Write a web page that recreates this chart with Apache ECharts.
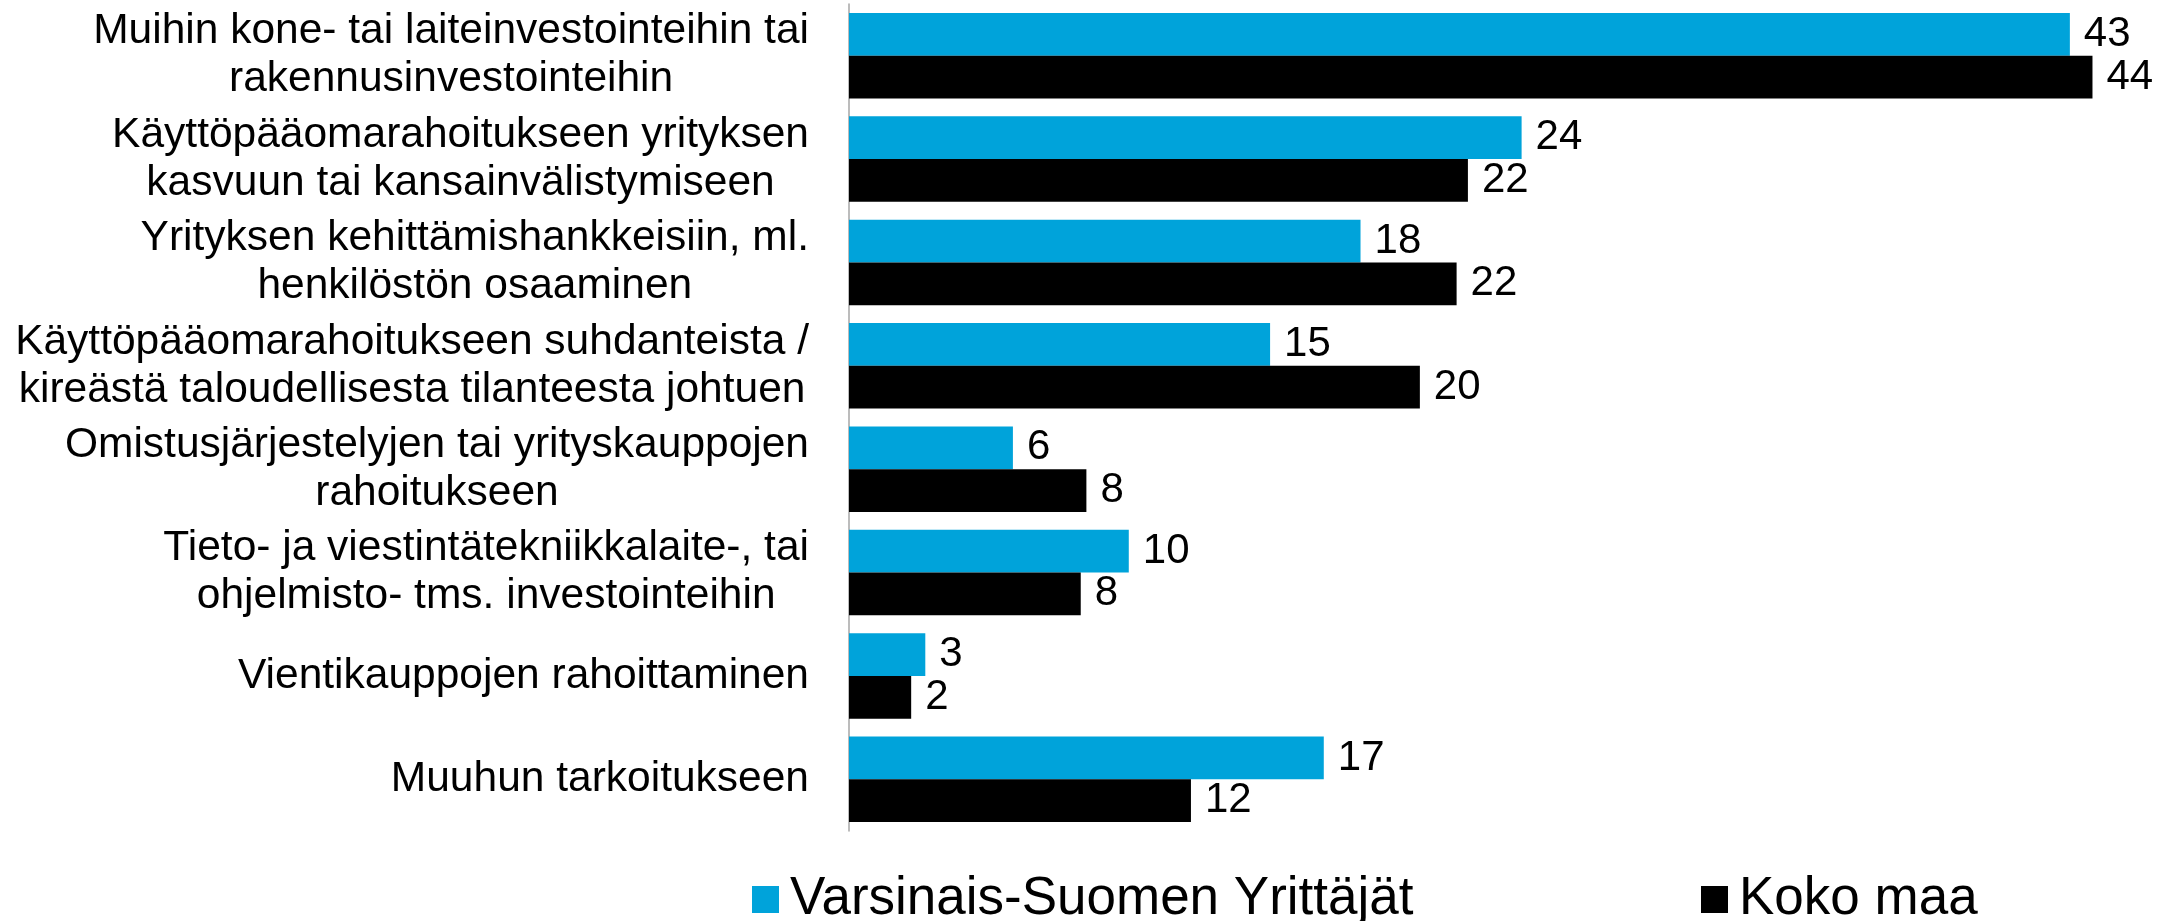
<!DOCTYPE html>
<html lang="fi">
<head>
    <meta charset="UTF-8">
    <title>Rahoituksen käyttökohteet</title>
    <script src="https://cdn.jsdelivr.net/npm/echarts@6/dist/echarts.min.js"></script>
    <style>
        * { margin: 0; padding: 0; }
        html, body { width: 100%; height: 100%; background: #fff; }
    </style>
</head>
<body>
<div id="main" style="width: 2169px; height: 921px;"></div>
<script>
    // kategoriat (rivit ylhäältä alas)
    var categories = [
        'Muihin kone- tai laiteinvestointeihin tai\nrakennusinvestointeihin',
        'Käyttöpääomarahoitukseen yrityksen\nkasvuun tai kansainvälistymiseen',
        'Yrityksen kehittämishankkeisiin, ml.\nhenkilöstön osaaminen',
        'Käyttöpääomarahoitukseen suhdanteista /\nkireästä taloudellisesta tilanteesta johtuen',
        'Omistusjärjestelyjen tai yrityskauppojen\nrahoitukseen',
        'Tieto- ja viestintätekniikkalaite-, tai\nohjelmisto- tms. investointeihin',
        'Vientikauppojen rahoittaminen',
        'Muuhun tarkoitukseen'
    ];
    var seriesNames = ['Varsinais-Suomen Yrittäjät', 'Koko maa'];
    var varsinaisSuomi = [43.2, 23.8, 18.1, 14.9, 5.8, 9.9, 2.7, 16.8];
    var kokoMaa = [44.0, 21.9, 21.5, 20.2, 8.4, 8.2, 2.2, 12.1];

    var font = 'Liberation Sans, Arial, sans-serif';

    var myChart = echarts.init(document.getElementById('main'));

    var valueLabel = {
        show: true,
        position: 'right',
        distance: 14,
        color: '#000',
        fontFamily: font,
        fontSize: 42,
        formatter: function (p) { return Math.round(p.value); }
    };

    var option = {
        animation: false,
        grid: { left: 849, right: 20, top: 4, bottom: 90 },
        legend: [{
            data: [seriesNames[0]],
            left: 747, top: 868,
            icon: 'rect', itemWidth: 27, itemHeight: 27,
            textStyle: { fontFamily: font, fontSize: 53, color: '#000', lineHeight: 53, padding: [0, 0, 0, 6] }
        }, {
            data: [seriesNames[1]],
            left: 1696, top: 868,
            icon: 'rect', itemWidth: 27, itemHeight: 27,
            textStyle: { fontFamily: font, fontSize: 53, color: '#000', lineHeight: 53, padding: [0, 0, 0, 6] }
        }],
        xAxis: {
            type: 'value',
            min: 0,
            max: 46,
            show: false
        },
        yAxis: {
            type: 'category',
            inverse: true,
            data: categories,
            axisLine: { show: true, lineStyle: { color: '#a6a6a6', width: 1.5 } },
            axisTick: { show: false },
            axisLabel: {
                margin: 40,
                color: '#000',
                fontFamily: font,
                fontSize: 42.5,
                lineHeight: 48,
                formatter: function (v) {
                    return v.split('\n').map(function (s) { return '{c|' + s + '}'; }).join('\n');
                },
                rich: { c: { align: 'center', fontFamily: font, fontSize: 42.5, lineHeight: 48, color: '#000' } }
            }
        },
        series: [{
            name: seriesNames[0],
            type: 'bar',
            data: varsinaisSuomi,
            barGap: '0%',
            barCategoryGap: '17.4%',
            itemStyle: { color: '#00A3DA' },
            label: valueLabel
        }, {
            name: seriesNames[1],
            type: 'bar',
            data: kokoMaa,
            barGap: '0%',
            barCategoryGap: '17.4%',
            itemStyle: { color: '#000000' },
            label: valueLabel
        }]
    };

    myChart.setOption(option);
</script>
</body>
</html>
